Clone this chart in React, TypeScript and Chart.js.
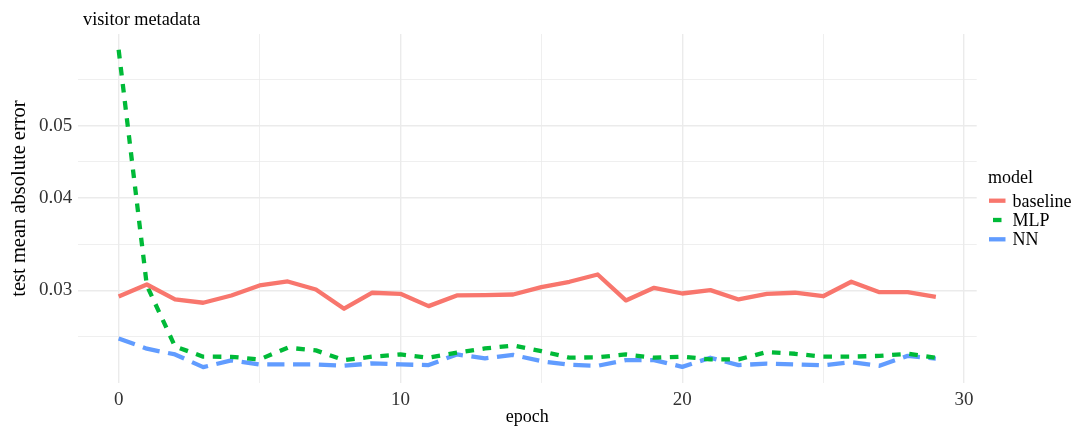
import React, { useEffect, useRef } from "react";
import { Chart, registerables } from "chart.js";

Chart.register(...registerables);

const epochs = [0, 1, 2, 3, 4, 5, 6, 7, 8, 9, 10, 11, 12, 13, 14, 15, 16, 17, 18, 19, 20, 21, 22, 23, 24, 25, 26, 27, 28, 29];

const baseline = [0.02945, 0.03056, 0.02918, 0.02888, 0.02954, 0.03047, 0.03085, 0.03009, 0.02835, 0.02979, 0.02969, 0.02858, 0.02954, 0.02957, 0.02963, 0.03031, 0.03082, 0.03152, 0.02909, 0.03025, 0.02972, 0.03003, 0.02918, 0.02969, 0.02979, 0.02947, 0.03082, 0.02984, 0.02984, 0.02942];
const mlp = [0.0632, 0.03046, 0.02523, 0.02444, 0.02443, 0.02423, 0.02513, 0.02492, 0.02418, 0.02444, 0.02461, 0.02436, 0.02474, 0.02507, 0.0253, 0.02486, 0.02436, 0.02439, 0.02461, 0.02436, 0.02444, 0.02423, 0.02423, 0.02479, 0.02466, 0.02444, 0.02444, 0.0245, 0.02466, 0.02436];
const nn = [0.02586, 0.02505, 0.02461, 0.02366, 0.02416, 0.02386, 0.02386, 0.02386, 0.02376, 0.02394, 0.02386, 0.02381, 0.02461, 0.02431, 0.02457, 0.0241, 0.02383, 0.02376, 0.02418, 0.02418, 0.02368, 0.02436, 0.02381, 0.02392, 0.02386, 0.02379, 0.02403, 0.02376, 0.0245, 0.02429];

const seriesNames = ["baseline", "MLP", "NN"];
const seriesColors = ["#F8766D", "#00BA38", "#619CFF"];
const seriesDashes: number[][] = [[], [8.6, 8.6], [17.2, 8.6]];

const xMajorTicks = [0, 10, 20, 30];
const xMinorTicks = [5, 15, 25];
const yMajorTicks = [0.03, 0.04, 0.05];
const yMinorTicks = [0.025981, 0.034641, 0.044721, 0.057735];

const titleText = "visitor metadata";
const xTitle = "epoch";
const yTitle = "test mean absolute error";
const legendTitle = "model";

const FONT = "'Liberation Serif', 'Times New Roman', serif";

export default function App() {
  const ref = useRef<HTMLCanvasElement | null>(null);

  useEffect(() => {
    const canvas = ref.current;
    if (!canvas) return;

    // ggplot-like expansion (5%) on x (linear) and y (log10)
    const xMin = Math.min(...epochs);
    const xMax = Math.max(...epochs);
    const xPad = (xMax - xMin) * 0.05;
    const all = [...baseline, ...mlp, ...nn];
    const lMin = Math.log10(Math.min(...all));
    const lMax = Math.log10(Math.max(...all));
    const lPad = (lMax - lMin) * 0.05;

    const seriesValues = [baseline, mlp, nn];

    const overlay = {
      id: "overlay",
      afterDraw(chart: any) {
        const ctx = chart.ctx;
        ctx.save();
        ctx.fillStyle = "#000";
        ctx.font = `18.3px ${FONT}`;
        ctx.textAlign = "left";
        ctx.textBaseline = "alphabetic";
        ctx.fillText(titleText, 83, 25);

        // y axis title
        ctx.save();
        ctx.translate(25, 198.5);
        ctx.rotate(-Math.PI / 2);
        ctx.font = `20.5px ${FONT}`;
        ctx.textAlign = "center";
        ctx.fillText(yTitle, 0, 0);
        ctx.restore();

        // legend
        ctx.font = `18px ${FONT}`;
        ctx.textAlign = "left";
        ctx.fillText(legendTitle, 988, 182.5);
        const keyYs = [200.7, 220, 239.3];
        for (let i = 0; i < seriesNames.length; i++) {
          const y = keyYs[i];
          ctx.strokeStyle = seriesColors[i];
          ctx.lineWidth = 4.3;
          ctx.lineCap = "butt";
          ctx.setLineDash([]);
          ctx.beginPath();
          if (i === 1) {
            ctx.moveTo(993, y);
            ctx.lineTo(1001.5, y);
          } else {
            ctx.moveTo(989, y);
            ctx.lineTo(1005.5, y);
          }
          ctx.stroke();
          ctx.fillStyle = "#000";
          ctx.fillText(seriesNames[i], 1012.5, y + 5.9);
        }
        ctx.restore();
      },
    };

    const chart = new Chart(canvas, {
      type: "line",
      data: {
        datasets: seriesNames.map((name, i) => ({
          label: name,
          data: epochs.map((e, j) => ({ x: e, y: seriesValues[i][j] })),
          borderColor: seriesColors[i],
          backgroundColor: seriesColors[i],
          borderWidth: 4.3,
          borderDash: seriesDashes[i],
          borderCapStyle: "butt",
          borderJoinStyle: "round",
          pointRadius: 0,
          pointHoverRadius: 0,
          tension: 0,
          fill: false,
        })),
      },
      options: {
        animation: false,
        responsive: false,
        maintainAspectRatio: false,
        events: [],
        layout: { padding: { top: 34, right: 103.3, bottom: 0, left: 0 } },
        plugins: {
          legend: { display: false },
          title: { display: false },
          tooltip: { enabled: false },
        },
        scales: {
          x: {
            type: "linear",
            min: xMin - xPad,
            max: xMax + xPad,
            bounds: "data",
            afterBuildTicks: (scale: any) => {
              scale.ticks = [...xMajorTicks, ...xMinorTicks]
                .sort((a, b) => a - b)
                .map((v) => ({ value: v }));
            },
            afterFit: (scale: any) => {
              scale.height = 45;
            },
            grid: {
              color: "#EBEBEB",
              lineWidth: (c: any) => (c.tick && xMajorTicks.includes(c.tick.value) ? 1.4 : 0.8),
              drawTicks: false,
            },
            border: { display: false },
            ticks: {
              padding: 6,
              color: "#333333",
              font: { family: FONT, size: 19 },
              maxRotation: 0,
              autoSkip: false,
              callback: (v: any) => (xMajorTicks.includes(Number(v)) ? String(v) : ""),
            },
            title: {
              display: true,
              text: xTitle,
              color: "#000",
              font: { family: FONT, size: 18 },
              padding: { top: 0, bottom: 0 },
            },
          },
          y: {
            type: "logarithmic",
            min: Math.pow(10, lMin - lPad),
            max: Math.pow(10, lMax + lPad),
            bounds: "data",
            afterBuildTicks: (scale: any) => {
              scale.ticks = [...yMajorTicks, ...yMinorTicks]
                .sort((a, b) => a - b)
                .map((v) => ({ value: v, major: false }));
            },
            afterFit: (scale: any) => {
              scale.width = 77.8;
            },
            grid: {
              color: "#EBEBEB",
              lineWidth: (c: any) => (c.tick && yMajorTicks.includes(c.tick.value) ? 1.4 : 0.8),
              drawTicks: false,
            },
            border: { display: false },
            ticks: {
              padding: 5.5,
              color: "#333333",
              font: { family: FONT, size: 19 },
              autoSkip: false,
              callback: (v: any) => (yMajorTicks.includes(Number(v)) ? Number(v).toFixed(2) : ""),
            },
            title: { display: false },
          },
        },
      },
      plugins: [overlay],
    } as any);

    return () => {
      chart.destroy();
    };
  }, []);

  return (
    <div style={{ position: "absolute", left: 0, top: 0, width: 1080, height: 428, background: "#fff" }}>
      <canvas ref={ref} width={1080} height={428} style={{ display: "block", width: 1080, height: 428 }} />
    </div>
  );
}
